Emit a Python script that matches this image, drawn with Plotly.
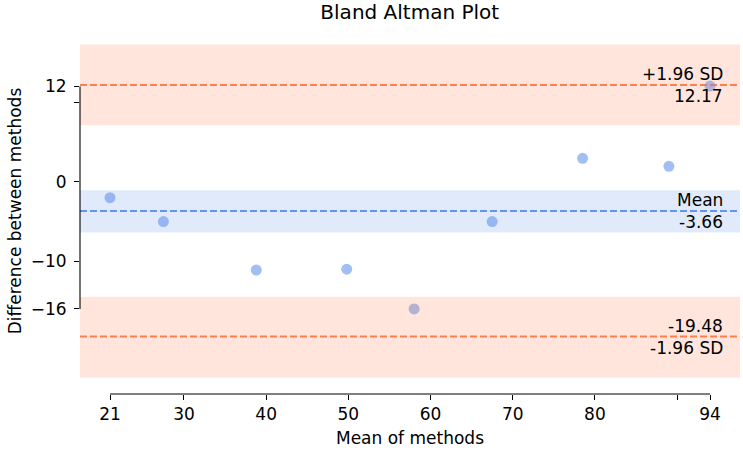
import plotly.graph_objects as go

# ---- data ----
mean_of_methods = [21, 27.5, 38.8, 49.8, 58, 67.5, 78.5, 89, 94]
diff_methods = [-2, -5, -11.1, -11, -16, -5, 2.95, 1.95, 12.05]

mean_diff = -3.66
upper_loa = 12.17
lower_loa = -19.48
mean_ci = [-6.38, -1.06]
upper_ci = [7.12, 17.27]
lower_ci = [-24.62, -14.48]

x_tickvals = [21, 30, 40, 50, 60, 70, 80, 90, 94]
x_ticktext = ["21", "30", "40", "50", "60", "70", "80", "", "94"]
y_tickvals = [-16, -10, 0, 10, 12]
y_ticktext = ["\u221216", "\u221210", "0", "", "12"]

FONT = "DejaVu Sans"
BLUE = "#6495ED"
CORAL = "#FF7F50"

fig = go.Figure()

fig.add_trace(go.Scatter(
    x=mean_of_methods, y=diff_methods, mode="markers",
    marker=dict(size=11, color="rgba(100,149,237,0.6)", line=dict(width=0)),
    showlegend=False, hoverinfo="x+y"))

shapes = []
# lines (below points)
for yv, col in [(upper_loa, CORAL), (mean_diff, BLUE), (lower_loa, CORAL)]:
    shapes.append(dict(type="line", xref="paper", yref="y", x0=0, x1=1, y0=yv, y1=yv,
                       line=dict(color=col, width=2, dash="7px,3px"), layer="below"))
# bands (drawn over points, translucent)
for lo, hi, col in [(upper_ci[0], upper_ci[1], "rgba(255,127,80,0.2)"),
                    (mean_ci[0], mean_ci[1], "rgba(100,149,237,0.2)"),
                    (lower_ci[0], lower_ci[1], "rgba(255,127,80,0.2)")]:
    shapes.append(dict(type="rect", xref="paper", yref="y", x0=0, x1=1, y0=lo, y1=hi,
                       fillcolor=col, line=dict(width=0), layer="above"))
# trimmed spines
shapes.append(dict(type="line", xref="paper", yref="y", x0=0, x1=0,
                   y0=y_tickvals[0], y1=y_tickvals[-1], line=dict(color="black", width=1.1)))
shapes.append(dict(type="line", xref="x", yref="paper", x0=x_tickvals[0], x1=x_tickvals[-1],
                   y0=0, y1=0, line=dict(color="black", width=1.1)))

ann_font = dict(family=FONT, size=17, color="black")
annotations = []
for yv, above, below in [(upper_loa, "+1.96 SD", f"{upper_loa:.2f}"),
                         (mean_diff, "Mean", f"{mean_diff:.2f}"),
                         (lower_loa, f"{lower_loa:.2f}", "-1.96 SD")]:
    annotations.append(dict(x=0.978, xref="paper", y=yv, yref="y", text=above,
                            showarrow=False, xanchor="right", yanchor="bottom",
                            font=ann_font, yshift=-1))
    annotations.append(dict(x=0.978, xref="paper", y=yv, yref="y", text=below,
                            showarrow=False, xanchor="right", yanchor="top",
                            font=ann_font, yshift=1))

fig.update_layout(
    width=743, height=450,
    margin=dict(l=80, r=3, t=28, b=56),
    plot_bgcolor="white", paper_bgcolor="white",
    font=dict(family=FONT, size=17, color="black"),
    title=dict(text="Bland Altman Plot", x=0.5515, xanchor="center",
               y=1 - 12 / 450, yref="container", yanchor="middle",
               font=dict(family=FONT, size=20, color="black")),
    shapes=shapes, annotations=annotations,
    xaxis=dict(range=[17.35, 97.65], tickmode="array", tickvals=x_tickvals,
               ticktext=x_ticktext, ticks="outside", ticklen=5, tickwidth=1.1,
               tickcolor="black", showgrid=False, zeroline=False, showline=False,
               tickfont=dict(family=FONT, size=17),
               title=dict(text="Mean of methods", standoff=8,
                          font=dict(family=FONT, size=17))),
    yaxis=dict(range=[-26.71, 19.36], tickmode="array", tickvals=y_tickvals,
               ticktext=y_ticktext, ticks="outside", ticklen=5, tickwidth=1.1,
               tickcolor="black", showgrid=False, zeroline=False, showline=False,
               ticklabelstandoff=4,
               tickfont=dict(family=FONT, size=17),
               title=dict(text="Difference between methods", standoff=4,
                          font=dict(family=FONT, size=17))),
)

fig.write_html("out.html")
